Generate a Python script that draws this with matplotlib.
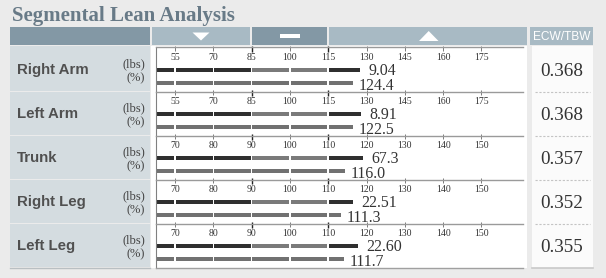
import matplotlib
matplotlib.use("Agg")
import matplotlib.pyplot as plt
from matplotlib.patches import Rectangle, Polygon

# ---------------- data ----------------
title = "Segmental Lean Analysis"
segments = ["Right Arm", "Left Arm", "Trunk", "Right Leg", "Left Leg"]
lbs_labels = ["9.04", "8.91", "67.3", "22.51", "22.60"]
pct_values = [124.4, 122.5, 116.0, 111.3, 111.7]
lbs_bar_len = [127.6, 127.8, 119.2, 116.5, 117.7]   # lbs bar extent read on each row's scale
pct_bar_len = [124.8, 124.8, 114.5, 113.3, 114.2]   # % bar extent read on each row's scale
ecw_tbw = [0.368, 0.368, 0.357, 0.352, 0.355]
arm_ticks = [55, 70, 85, 100, 115, 130, 145, 160, 175]
body_ticks = [70, 80, 90, 100, 110, 120, 130, 140, 150]
row_ticks = [arm_ticks, arm_ticks, body_ticks, body_ticks, body_ticks]
normal_ranges = [(85, 115), (85, 115), (90, 110), (90, 110), (90, 110)]
unit_labels = ["(lbs)", "(%)"]
ecw_header = "ECW/TBW"

# ---------------- layout / style ----------------
W, H = 606, 278
SERIF = "Liberation Serif"
SANS = "Liberation Sans"
BG = "#ebebeb"
HDR_DARK = "#8398a5"
HDR_LIGHT = "#a8bac4"
LABEL_BG = "#d4dce0"
chart_x0, chart_x1 = 155.5, 523.0
tick0_px, tick_step_px = 175.0, 38.3
row_top0, row_h = 47.5, 44.0
lbs_y, pct_y, bar_h = 22.5, 35.2, 3.8

fig = plt.figure(figsize=(W / 100, H / 100), dpi=100, facecolor=BG)
bg = fig.add_axes([0, 0, 1, 1], zorder=0)
bg.set_xlim(0, W)
bg.set_ylim(H, 0)
bg.axis("off")

# title
bg.text(12, 21.5, title, family=SERIF, weight="bold", fontsize=15,
        color="#687a87", ha="left", va="baseline")

# header bar
hdr_y0, hdr_y1 = 27, 45
for x0, x1, col in [(10, 150, HDR_DARK), (152, 250, HDR_LIGHT), (252, 327, HDR_DARK),
                    (329, 527, HDR_LIGHT), (530, 593, HDR_LIGHT)]:
    bg.add_patch(Rectangle((x0, hdr_y0), x1 - x0, hdr_y1 - hdr_y0, color=col, lw=0))
bg.add_patch(Polygon([(192.5, 32.5), (209.5, 32.5), (201, 40.5)], closed=True, color="white", lw=0))
bg.add_patch(Rectangle((280, 34.3), 19.5, 3.6, color="white", lw=0))
bg.add_patch(Polygon([(419, 41), (438.5, 41), (428.7, 31)], closed=True, color="white", lw=0))
bg.text(561.5, 36.5, ecw_header, family=["Liberation Sans Narrow", SANS], fontsize=8.6,
        color="white", ha="center", va="center")

# chart white area and ECW column
bottom = row_top0 + row_h * len(segments)
bg.add_patch(Rectangle((151, 45.5), 376, bottom - 45.5, color="white", lw=0))
bg.add_patch(Rectangle((532, 45.5), 61, bottom - 45.5, color="#fbfbfb", lw=0))
bg.plot([532, 593], [bottom + 0.8, bottom + 0.8], color="#c9c9c9", lw=1.2)
bg.plot([10, 150], [bottom + 0.3, bottom + 0.3], color="#b9bfc2", lw=1.0)

for i, name in enumerate(segments):
    top = row_top0 + row_h * i
    # label cell
    bg.add_patch(Rectangle((10, top - 1.5 if i == 0 else top + 0.5), 140,
                           row_h - 1 + (2 if i == 0 else 0), color=LABEL_BG, lw=0))
    bg.text(17, top + 22.5, name, family=SANS, weight="bold", fontsize=10.8,
            color="#505050", ha="left", va="center")
    bg.text(145, top + 16.5, unit_labels[0], family=SERIF, fontsize=9,
            color="#444444", ha="right", va="center")
    bg.text(145, top + 30.5, unit_labels[1], family=SERIF, fontsize=9,
            color="#444444", ha="right", va="center")
    # ECW/TBW value
    bg.text(562, top + 21.5, f"{ecw_tbw[i]:.3f}", family=SERIF, fontsize=13.8,
            color="#333333", ha="center", va="center_baseline")
    if i > 0:
        bg.plot([535, 590], [top, top], color="#c4c4c4", lw=0.8, ls=(0, (2, 1.5)))

    # row axes with its own scale
    ticks = row_ticks[i]
    step = ticks[1] - ticks[0]
    xmin = ticks[0] - (tick0_px - chart_x0) / tick_step_px * step
    xmax = ticks[0] + (chart_x1 - tick0_px) / tick_step_px * step
    ax = fig.add_axes([chart_x0 / W, 1 - (top + row_h) / H,
                       (chart_x1 - chart_x0) / W, row_h / H], zorder=2)
    ax.patch.set_alpha(0)
    ax.set_xlim(xmin, xmax)
    ax.set_ylim(row_h, 0)
    ax.set_xticks([])
    ax.set_yticks([])
    for s in ["right", "bottom"]:
        ax.spines[s].set_visible(False)
    if i == len(segments) - 1:
        ax.spines["bottom"].set_visible(True)
        ax.spines["bottom"].set_color("#a0a0a0")
        ax.spines["bottom"].set_linewidth(1.0)
    ax.spines["top"].set_color("#9a9a9a")
    ax.spines["top"].set_linewidth(1.0)
    ax.spines["left"].set_color("#808080")
    ax.spines["left"].set_linewidth(0.8)

    lo, hi = normal_ranges[i]
    for t in ticks:
        strong = t in (lo, hi)
        ax.vlines(t, -1.8 if strong else -1.3, 4.5 if strong else 3.5,
                  color="#222222" if strong else "#666666",
                  lw=1.0 if strong else 0.6, clip_on=False)
        ax.text(t, 9.4, str(t), family=SERIF, fontsize=7.0, color="#333333",
                ha="center", va="center_baseline")

    gap = step * 1.5 / tick_step_px
    bounds = [xmin] + ticks + [xmax]

    def draw_bar(y, end, color_fn):
        for a, b in zip(bounds[:-1], bounds[1:]):
            if a >= end:
                break
            b2 = min(b, end)
            left = a + (gap / 2 if a in ticks else 0)
            right = b2 - (gap / 2 if (b2 == b and b in ticks) else 0)
            if right > left:
                ax.barh(y, right - left, left=left, height=bar_h,
                        color=color_fn(a, b), lw=0)

    draw_bar(lbs_y, lbs_bar_len[i],
             lambda a, b: "#7a7a7a" if (a >= lo and b <= hi) else "#2f2f2f")
    draw_bar(pct_y, pct_bar_len[i], lambda a, b: "#717171")

    ax.annotate(lbs_labels[i], (lbs_bar_len[i], lbs_y - 0.6), xytext=(6.0, 0),
                textcoords="offset points", family=SERIF, fontsize=11.4,
                color="#333333", ha="left", va="center_baseline")
    ax.annotate(f"{pct_values[i]:.1f}", (pct_bar_len[i], pct_y + 0.8), xytext=(4.0, 0),
                textcoords="offset points", family=SERIF, fontsize=11.4,
                color="#333333", ha="left", va="center_baseline")

fig.savefig("out.png", dpi=100, facecolor=BG)
